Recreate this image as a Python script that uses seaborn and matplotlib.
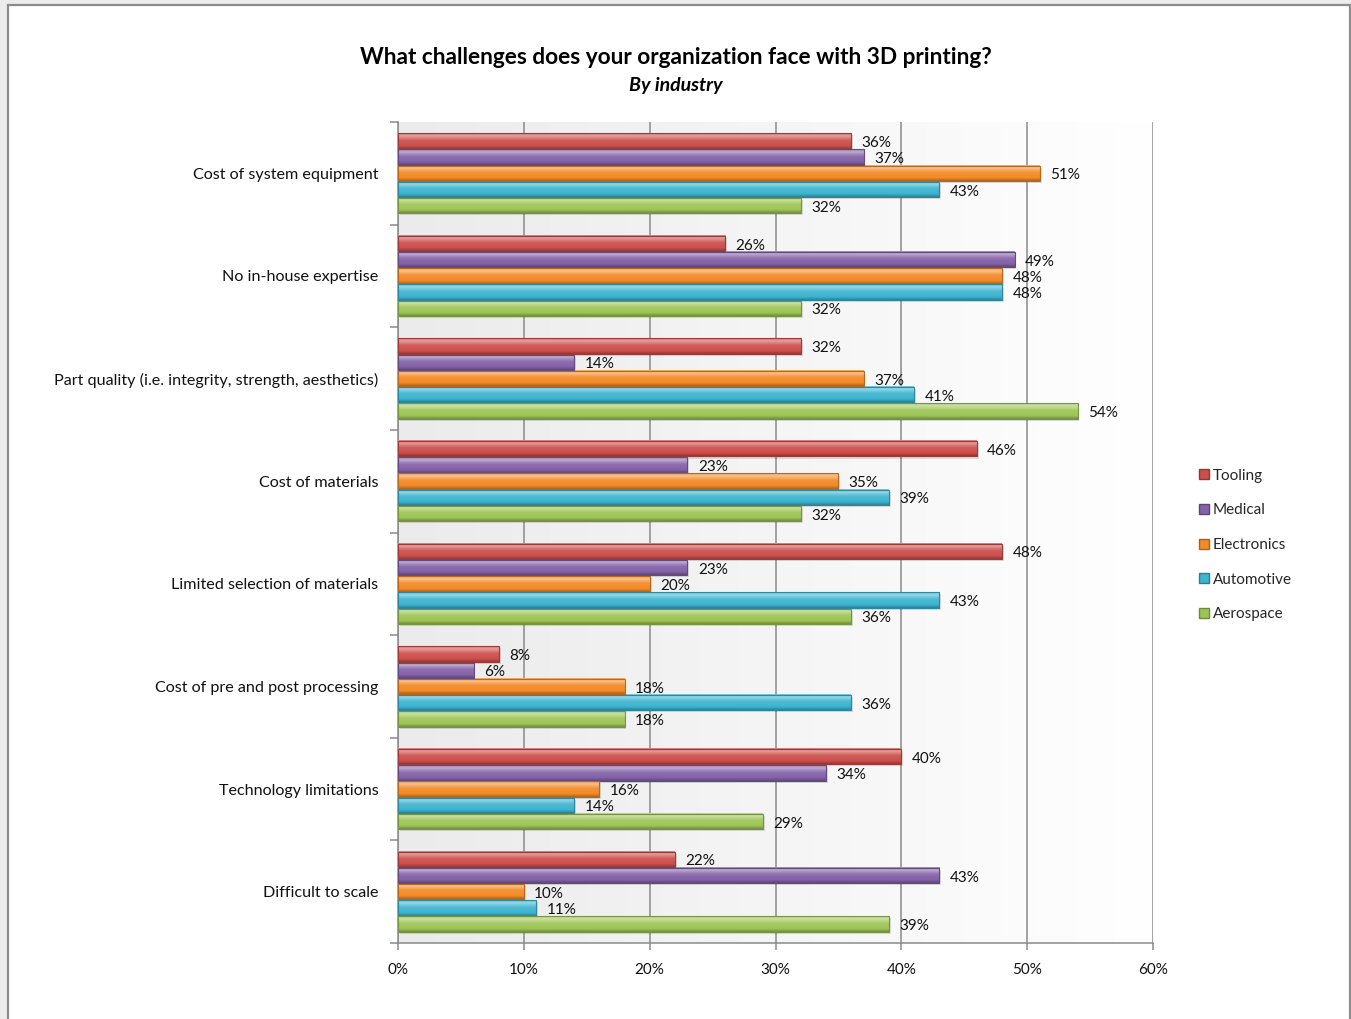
import numpy as np
import pandas as pd
import matplotlib
matplotlib.use("Agg")
import matplotlib.pyplot as plt
import matplotlib.colors as mcolors
from matplotlib.patches import Rectangle, Patch
import seaborn as sns

# ---- data -------------------------------------------------------------
challenges = [
    "Cost of system equipment",
    "No in-house expertise",
    "Part quality (i.e. integrity, strength, aesthetics)",
    "Cost of materials",
    "Limited selection of materials",
    "Cost of pre and post processing",
    "Technology limitations",
    "Difficult to scale",
]
industries = ["Tooling", "Medical", "Electronics", "Automotive", "Aerospace"]

tooling = [36, 26, 32, 46, 48, 8, 40, 22]
medical = [37, 49, 14, 23, 23, 6, 34, 43]
electronics = [51, 48, 37, 35, 20, 18, 16, 10]
automotive = [43, 48, 41, 39, 43, 36, 14, 11]
aerospace = [32, 32, 54, 32, 36, 18, 29, 39]

x_ticks = [0, 10, 20, 30, 40, 50, 60]
x_tick_labels = ["0%", "10%", "20%", "30%", "40%", "50%", "60%"]

colors = {
    "Tooling": "#CD4F4C",
    "Medical": "#8462A8",
    "Electronics": "#F38A26",
    "Automotive": "#3DB4D0",
    "Aerospace": "#9DC556",
}

series = {
    "Tooling": tooling,
    "Medical": medical,
    "Electronics": electronics,
    "Automotive": automotive,
    "Aerospace": aerospace,
}
df = pd.DataFrame(
    [(c, ind, v) for ind in industries for c, v in zip(challenges, series[ind])],
    columns=["challenge", "industry", "value"],
)

# ---- figure -----------------------------------------------------------
sns.set_theme(style="white")
plt.rcParams["font.family"] = ["Lato", "DejaVu Sans"]

W, H = 1351, 1019
fig = plt.figure(figsize=(W / 100, H / 100), dpi=100)
fig.patch.set_facecolor("#ececec")

# white chart card with a grey border
card = Rectangle((8 / W, -0.01), (1349.5 - 8) / W, 1 - 5 / H + 0.01,
                 transform=fig.transFigure, facecolor="white",
                 edgecolor="#8c8c8c", linewidth=1.6, zorder=-5)
fig.patches.append(card)

ax = fig.add_axes([398 / W, 1 - 943 / H, (1153 - 398) / W, (943 - 122) / H])

sns.barplot(
    data=df, y="challenge", x="value", hue="industry",
    order=challenges, hue_order=industries, palette=colors,
    orient="h", width=0.79, gap=0.05, errorbar=None, ax=ax,
    legend=False, zorder=3,
)

ax.set_xlim(0, 60)
ylim = ax.get_ylim()

# plot-area background: soft grey fading to white
bg = np.linspace(0, 1, 256).reshape(1, -1)
bg_cmap = mcolors.LinearSegmentedColormap.from_list("bg", ["#ebebeb", "#ffffff"])
ax.imshow(bg, cmap=bg_cmap, extent=[0, 1, 0, 1], transform=ax.transAxes,
          aspect="auto", zorder=0, interpolation="bilinear")


def shade(c, f):
    r = np.array(mcolors.to_rgb(c))
    if f >= 0:
        return tuple(r + (1 - r) * f)
    return tuple(r * (1 + f))


# cylinder-like shading on each bar
for container, ind in zip(ax.containers, industries):
    base = colors[ind]
    cmap = mcolors.LinearSegmentedColormap.from_list(
        ind,
        [(0.0, shade(base, 0.25)), (0.18, shade(base, 0.45)),
         (0.45, shade(base, 0.08)), (0.8, base), (1.0, shade(base, -0.28))],
    )
    grad = np.linspace(0, 1, 64).reshape(-1, 1)
    for bar in container:
        x0, y0 = bar.get_x(), bar.get_y()
        w, h = bar.get_width(), bar.get_height()
        # soft drop shadow
        ax.add_patch(Rectangle((x0 + 0.15, y0 + 0.02), w, h, facecolor="#000000",
                               alpha=0.12, edgecolor="none", zorder=2))
        ax.imshow(grad, cmap=cmap, extent=[x0, x0 + w, y0 + h, y0],
                  aspect="auto", zorder=3.5, interpolation="bilinear")
        bar.set_facecolor("none")
        bar.set_edgecolor(shade(base, -0.25))
        bar.set_linewidth(0.8)
        bar.set_zorder(4)

for container in ax.containers:
    anns = ax.bar_label(container, labels=[f"{v:.0f}%" for v in container.datavalues],
                        padding=7.5, fontsize=11, color="#111111")
    for a in anns:
        a.xyann = (7.5, -1.5)

ax.set_xlim(0, 60)
ax.set_ylim(ylim)

# axes styling
ax.set_xticks(x_ticks)
ax.set_xticklabels(x_tick_labels, fontsize=11, color="#111111")
ax.grid(axis="x", color="#8a8a8a", linewidth=1.1, zorder=1)
ax.grid(axis="y", visible=False)
ax.set_axisbelow(True)
for s in ["top", "right"]:
    ax.spines[s].set_visible(False)
for s in ["left", "bottom"]:
    ax.spines[s].set_color("#8a8a8a")
    ax.spines[s].set_linewidth(1.1)

ax.tick_params(axis="x", length=5, width=1.1, color="#8a8a8a", pad=9.5,
               direction="out", bottom=True)
ax.tick_params(axis="y", which="major", length=0, pad=14, labelsize=11.6,
               labelcolor="#111111")
ax.set_yticks(np.arange(-0.5, len(challenges), 1.0), minor=True)
ax.tick_params(axis="y", which="minor", length=6, width=1.1, color="#8a8a8a",
               direction="out", left=True)
ax.set_xlabel("")
ax.set_ylabel("")

# titles
fig.text(0.5, 1 - 57 / H, "What challenges does your organization face with 3D printing?",
         ha="center", va="center", fontsize=16.3, fontweight="bold", color="#000000")
fig.text(0.5, 1 - 86 / H, "By industry", ha="center", va="center",
         fontsize=14, fontweight="bold", style="italic", color="#000000")

# legend
handles = [Patch(facecolor=colors[i], edgecolor=shade(colors[i], -0.3), label=i)
           for i in industries]
fig.legend(handles=handles, loc="center left", bbox_to_anchor=(1193 / W, 1 - 545 / H),
           frameon=False, fontsize=11, handlelength=0.65, handleheight=0.65,
           handletextpad=0.25, labelspacing=1.35, borderaxespad=0)

fig.savefig("out.png", dpi=100, facecolor=fig.get_facecolor())
